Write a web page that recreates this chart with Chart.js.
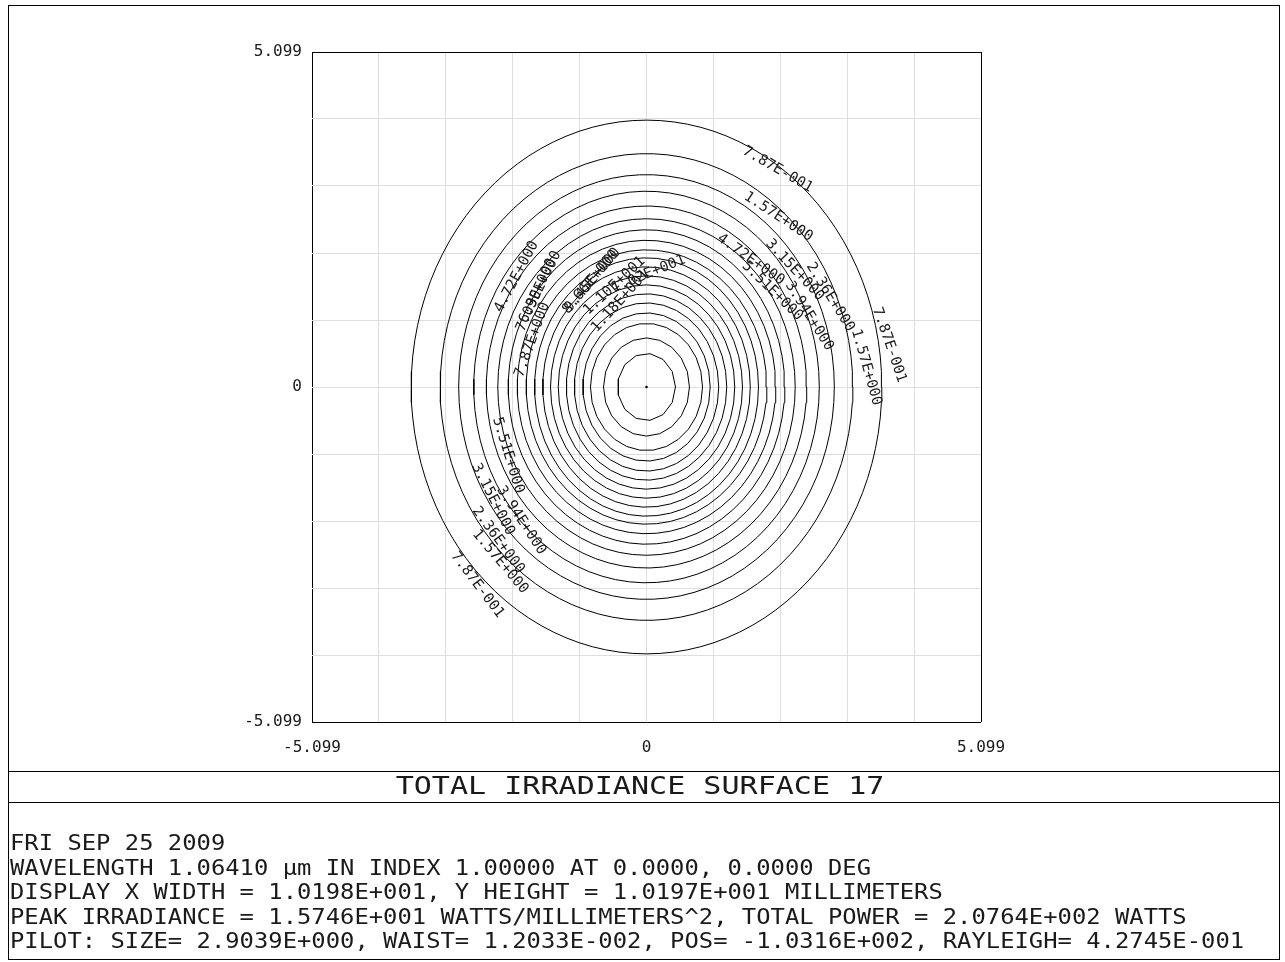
<!DOCTYPE html>
<html>
<head>
<meta charset="utf-8">
<script src="https://cdn.jsdelivr.net/npm/chart.js@4/dist/chart.umd.min.js"></script>
<style>
  html, body { margin: 0; padding: 0; background: #fff; }
  canvas { display: block; }
</style>
</head>
<body>
<canvas id="irr" width="1285" height="962"></canvas>
<script>
// Contour levels of total irradiance (W/mm^2), outermost contour first
const levelValues = [0.787, 1.57, 2.36, 3.15, 3.94, 4.72, 5.51, 6.30, 7.09, 7.87,
                     8.66, 9.45, 10.2, 11.0, 11.8, 12.6, 13.4, 14.2, 15.0];

// Half-width (X) and half-height (Y) of each contour, millimeters
const semiAxisX = [3.587, 3.145, 2.863, 2.634, 2.442, 2.267, 2.108, 1.970, 1.834, 1.707,
                   1.582, 1.463, 1.345, 1.223, 1.101, 0.971, 0.854, 0.655, 0.442];
const semiAxisY = [4.062, 3.552, 3.232, 2.980, 2.755, 2.561, 2.393, 2.233, 2.088, 1.966,
                   1.829, 1.692, 1.555, 1.418, 1.280, 1.128, 0.968, 0.747, 0.511];

// Display window and grid
const axisMin = -5.099;
const axisMax = 5.099;
const gridValues = [-5.099, -4.0792, -3.0594, -2.0396, -1.0198, 0,
                    1.0198, 2.0396, 3.0594, 4.0792, 5.099];
const tickValues = [-5.099, 0, 5.099];
const tickLabels = ['-5.099', '0', '5.099'];

// Contour labels: level index, anchor (mm) and text angle (deg)
const labelLevel = [0, 1, 3, 2, 5, 6, 4, 1, 0,
                    5, 7, 8, 9, 10, 11, 13, 14, 12,
                    6, 4, 3, 2, 1, 0];
const labelX = [2.00, 2.01, 2.26, 2.80, 1.59, 1.92, 2.48, 3.35, 3.70,
                -1.98, -1.62, -1.68, -1.74, -0.85, -0.82, -0.49, -0.40, 0.03,
                -2.11, -1.91, -2.34, -2.26, -2.23, -2.58];
const labelY = [3.31, 2.59, 1.78, 1.37, 1.94, 1.46, 1.08, 0.30, 0.64,
                1.68, 1.52, 1.40, 0.72, 1.60, 1.63, 1.54, 1.31, 1.72,
                -1.04, -2.03, -1.71, -2.33, -2.66, -3.01];
const labelAngle = [30, 33, 47, 58, 35, 44, 58, 74, 71,
                    -62, -64, -66, -70, -50, -50, -43, -48, -22,
                    73, 57, 63, 54, 50, 53];

const titleText = 'TOTAL IRRADIANCE SURFACE 17';
const footerLines = [
  'FRI SEP 25 2009',
  'WAVELENGTH 1.06410 \u00B5m IN INDEX 1.00000 AT 0.0000, 0.0000 DEG',
  'DISPLAY X WIDTH = 1.0198E+001, Y HEIGHT = 1.0197E+001 MILLIMETERS',
  'PEAK IRRADIANCE = 1.5746E+001 WATTS/MILLIMETERS^2, TOTAL POWER = 2.0764E+002 WATTS',
  'PILOT: SIZE= 2.9039E+000, WAIST= 1.2033E-002, POS= -1.0316E+002, RAYLEIGH= 4.2745E-001'
];

const MONO = '"DejaVu Sans Mono", "Liberation Mono", monospace';
const INK = '#1a1a1a';

// 7.87E-001 style formatting of a level value
function fmtLevel(v) {
  const e = Math.floor(Math.log10(v) + 1e-9);
  const m = v / Math.pow(10, e);
  return m.toFixed(2) + 'E' + (e < 0 ? '-' : '+') + String(Math.abs(e)).padStart(3, '0');
}

// Closed contour outline from its half-width and half-height
function contourOutline(rx, ry) {
  const n = Math.max(12, Math.round(rx * 30));
  const pts = [];
  for (let i = 0; i <= n; i++) {
    const t = 2 * Math.PI * i / n;
    pts.push({ x: rx * Math.cos(t), y: ry * Math.sin(t) });
  }
  return pts;
}

const datasets = levelValues.map((v, i) => ({
  label: fmtLevel(v),
  data: contourOutline(semiAxisX[i], semiAxisY[i]),
  showLine: true,
  borderColor: '#000',
  borderWidth: 1,
  pointRadius: 0,
  tension: 0,
  fill: false
}));
datasets.push({
  label: 'center',
  data: [{ x: 0, y: 0 }],
  showLine: false,
  pointRadius: 1.3,
  pointBackgroundColor: '#000',
  pointBorderWidth: 0
});

// Text drawn with a fixed character advance
function drawText(ctx, text, x, y, px, advance, align) {
  ctx.save();
  ctx.font = px + 'px ' + MONO;
  const natural = ctx.measureText('0').width;
  ctx.translate(x, y);
  ctx.scale(advance / natural, 1);
  ctx.textAlign = align;
  ctx.textBaseline = 'middle';
  ctx.fillStyle = INK;
  ctx.fillText(text, 0, 0);
  ctx.restore();
}

const pagePlugin = {
  id: 'page',
  afterDraw(chart) {
    const ctx = chart.ctx;
    const xs = chart.scales.x, ys = chart.scales.y;

    // contour labels
    ctx.save();
    ctx.fillStyle = INK;
    ctx.font = '14.5px ' + MONO;
    ctx.textAlign = 'center';
    ctx.textBaseline = 'middle';
    for (let i = 0; i < labelLevel.length; i++) {
      const px = xs.getPixelForValue(labelX[i]);
      const py = ys.getPixelForValue(labelY[i]);
      ctx.save();
      ctx.translate(px, py);
      ctx.rotate(labelAngle[i] * Math.PI / 180);
      ctx.fillText(fmtLevel(levelValues[labelLevel[i]]), 0, 0);
      ctx.restore();
    }
    ctx.restore();

    // page frame and title band
    ctx.save();
    ctx.strokeStyle = '#000';
    ctx.lineWidth = 1;
    ctx.strokeRect(8.5, 5.5, 1271, 954);
    ctx.beginPath();
    ctx.moveTo(8, 771.5); ctx.lineTo(1280, 771.5);
    ctx.moveTo(8, 802.5); ctx.lineTo(1280, 802.5);
    ctx.stroke();
    ctx.restore();

    drawText(ctx, titleText, 640, 787, 25, 18.1, 'center');

    const footY = [844.5, 869, 893.5, 918, 942.5];
    footerLines.forEach((t, i) => drawText(ctx, t, 10, footY[i], 22, 14.35, 'left'));
  }
};

const gridColor = (c) => {
  const n = gridValues.length - 1;
  return (c.index === 0 || c.index === n) ? '#000' : '#dedede';
};

const tickFont = { family: MONO, size: 16 };

new Chart(document.getElementById('irr'), {
  type: 'scatter',
  data: { datasets },
  options: {
    responsive: false,
    animation: false,
    devicePixelRatio: 1,
    layout: { padding: { left: 0, top: 52, right: 304, bottom: 0 } },
    plugins: { legend: { display: false }, tooltip: { enabled: false } },
    scales: {
      x: {
        type: 'linear',
        position: 'bottom',
        min: axisMin,
        max: axisMax,
        border: { display: false },
        grid: { color: gridColor, lineWidth: 1, drawTicks: false },
        ticks: {
          font: tickFont, color: INK, padding: 16,
          autoSkip: false, maxRotation: 0,
          callback: (v) => {
            const k = tickValues.findIndex(t => Math.abs(t - v) < 1e-6);
            return k >= 0 ? tickLabels[k] : '';
          }
        },
        afterBuildTicks: (s) => { s.ticks = gridValues.map(v => ({ value: v })); },
        afterFit: (s) => { s.height = 240; }
      },
      y: {
        type: 'linear',
        position: 'left',
        min: axisMin,
        max: axisMax,
        border: { display: false },
        grid: { color: gridColor, lineWidth: 1, drawTicks: false },
        ticks: {
          font: tickFont, color: INK, padding: 10,
          autoSkip: false,
          callback: (v) => {
            const k = tickValues.findIndex(t => Math.abs(t - v) < 1e-6);
            return k >= 0 ? tickLabels[k] : '';
          }
        },
        afterBuildTicks: (s) => { s.ticks = gridValues.map(v => ({ value: v })); },
        afterFit: (s) => { s.width = 312; }
      }
    }
  },
  plugins: [pagePlugin]
});
</script>
</body>
</html>
